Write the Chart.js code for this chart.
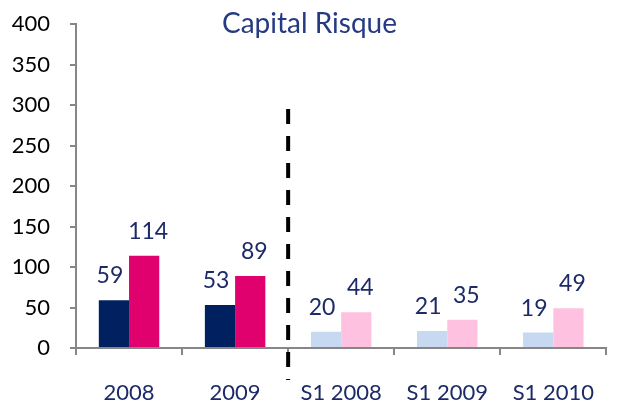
<!DOCTYPE html>
<html lang="fr">
<head>
  <meta charset="UTF-8">
  <title>Capital Risque</title>
  <script src="https://cdn.jsdelivr.net/npm/chart.js"></script>
  <style>
    body { margin: 0; background: #fff; }
    #wrap { width: 619px; height: 403px; }
  </style>
</head>
<body>
  <div id="wrap"><canvas id="chart" width="619" height="403"></canvas></div>
  <script>
    // données
    const periods = ["2008", "2009", "S1 2008", "S1 2009", "S1 2010"];
    const serieA = [59, 53, 20, 21, 19];
    const serieB = [114, 89, 44, 35, 49];
    const yTicks = [0, 50, 100, 150, 200, 250, 300, 350, 400];
    const chartTitle = "Capital Risque";

    const navy = "#1c2a68";
    const colorsA = ["#002060", "#002060", "#c6d9f1", "#c6d9f1", "#c6d9f1"];
    const colorsB = ["#e0006e", "#e0006e", "#ffc1e0", "#ffc1e0", "#ffc1e0"];
    const font = "Lato, 'Open Sans', sans-serif";

    const overlay = {
      id: "overlay",
      afterDatasetsDraw(chart) {
        const ctx = chart.ctx;
        const x = chart.scales.x, y = chart.scales.y;
        ctx.save();

        // titre
        ctx.fillStyle = "#253a82";
        ctx.font = "28px " + font;
        ctx.textAlign = "center";
        ctx.textBaseline = "alphabetic";
        ctx.fillText(chartTitle, chart.width / 2, 33);

        // étiquettes de valeurs
        ctx.fillStyle = navy;
        ctx.font = "23px " + font;
        ctx.textBaseline = "bottom";
        const shift = [-4, 4];
        chart.data.datasets.forEach((ds, di) => {
          chart.getDatasetMeta(di).data.forEach((bar, i) => {
            ctx.fillText(String(ds.data[i]), bar.x + shift[di], bar.y - 13);
          });
        });

        // séparateur pointillé entre annuel et semestriel
        const sx = (x.getPixelForValue(1) + x.getPixelForValue(2)) / 2;
        ctx.strokeStyle = "#000";
        ctx.lineWidth = 4;
        ctx.setLineDash([15, 12]);
        ctx.beginPath();
        ctx.moveTo(sx, y.getPixelForValue(295));
        ctx.lineTo(sx, y.bottom + 32);
        ctx.stroke();
        ctx.restore();
      }
    };

    new Chart(document.getElementById("chart"), {
      type: "bar",
      data: {
        labels: periods,
        datasets: [
          { label: "A", data: serieA, backgroundColor: colorsA },
          { label: "B", data: serieB, backgroundColor: colorsB }
        ]
      },
      options: {
        responsive: false,
        devicePixelRatio: 1,
        animation: false,
        layout: { padding: { top: 24, right: 0, left: 0, bottom: 0 } },
        datasets: { bar: { categoryPercentage: 0.57, barPercentage: 1 } },
        plugins: { legend: { display: false }, tooltip: { enabled: false }, title: { display: false } },
        scales: {
          x: {
            afterFit(s) { s.height = 55; },
            grid: { offset: true, drawOnChartArea: false, tickLength: 7, color: "#868686", lineWidth: 2 },
            border: { color: "#868686", width: 2 },
            ticks: { color: navy, font: { family: font, size: 22 }, padding: 25, maxRotation: 0 }
          },
          y: {
            min: 0, max: 400,
            afterFit(s) { s.width = 76; s.paddingTop = 0; s.paddingBottom = 0; },
            afterBuildTicks(s) { s.ticks = yTicks.map(v => ({ value: v })); },
            grid: { drawOnChartArea: false, tickLength: 6, color: "#868686", lineWidth: 2 },
            border: { color: "#868686", width: 2 },
            ticks: { color: "#000", font: { family: font, size: 22 }, padding: 20 }
          }
        }
      },
      plugins: [overlay]
    });
  </script>
</body>
</html>
